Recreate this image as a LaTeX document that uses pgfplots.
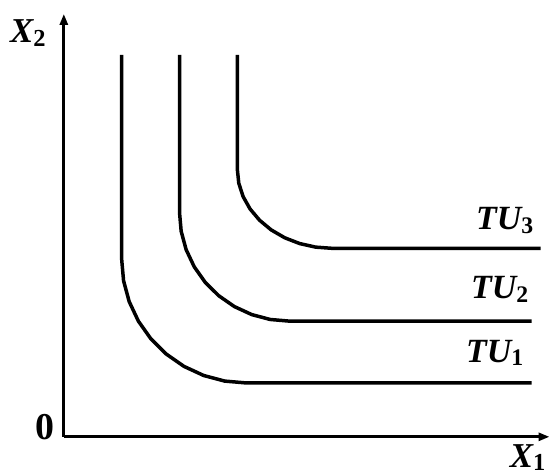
\documentclass[border=0pt]{standalone}
\usepackage{pgfplots}
\pgfplotsset{compat=1.18}
\usetikzlibrary{arrows.meta}
\usepackage{fontspec}
\setmainfont{Liberation Serif}
\newcommand{\lab}[3]{{\fontsize{#1}{#1}\selectfont\bfseries\itshape #2\raisebox{-0.1em}{\fontsize{0.7\dimexpr#1pt\relax}{1}\selectfont\upshape #3}}}
\begin{document}
\begin{tikzpicture}
\begin{axis}[
  x=1pt, y=1pt, scale only axis,
  xmin=0, xmax=487, ymin=0, ymax=424,
  axis lines=left,
  axis line style={line width=3pt, -{Triangle[length=11pt,width=8pt]}},
  xtick=\empty, ytick=\empty,
  clip=false,
]
\useasboundingbox (axis cs:-64,-39) rectangle (axis cs:487,438);
% TU1
\addplot[black, line width=3.5pt, line join=round] coordinates {
 (58,383) (58,178) (59.90,156.47) (65.54,135.59) (74.75,116) (87.25,98.29) (102.65,83.01) (120.5,70.61) (140.25,61.48) (161.29,55.88) (183,54) (469,54)};
% TU2
\addplot[black, line width=3.5pt, line join=round] coordinates {
 (116,383) (116,225) (117.67,206.07) (122.63,187.72) (130.74,170.5) (141.74,154.94) (155.29,141.50) (171,130.60) (188.38,122.57) (206.90,117.66) (226,116) (469,116)};
% TU3
\addplot[black, line width=3.5pt, line join=round] coordinates {
 (174,383) (174,268) (175.44,254.28) (179.73,240.98) (186.73,228.5) (196.23,217.22) (207.93,207.48) (221.5,199.58) (236.51,193.76) (252.50,190.20) (269,189) (478,189)};
\node at (axis cs:442,217) {\lab{34}{TU}{3}};
\node at (axis cs:437,148) {\lab{34}{TU}{2}};
\node at (axis cs:432,84) {\lab{34}{TU}{1}};
\node at (axis cs:-36,405) {\lab{35}{X}{2}};
\node at (axis cs:465,-21) {\lab{35}{X}{1}};
\node at (axis cs:-19,10) {\fontsize{38}{38}\selectfont\bfseries 0};
\end{axis}
\end{tikzpicture}
\end{document}
